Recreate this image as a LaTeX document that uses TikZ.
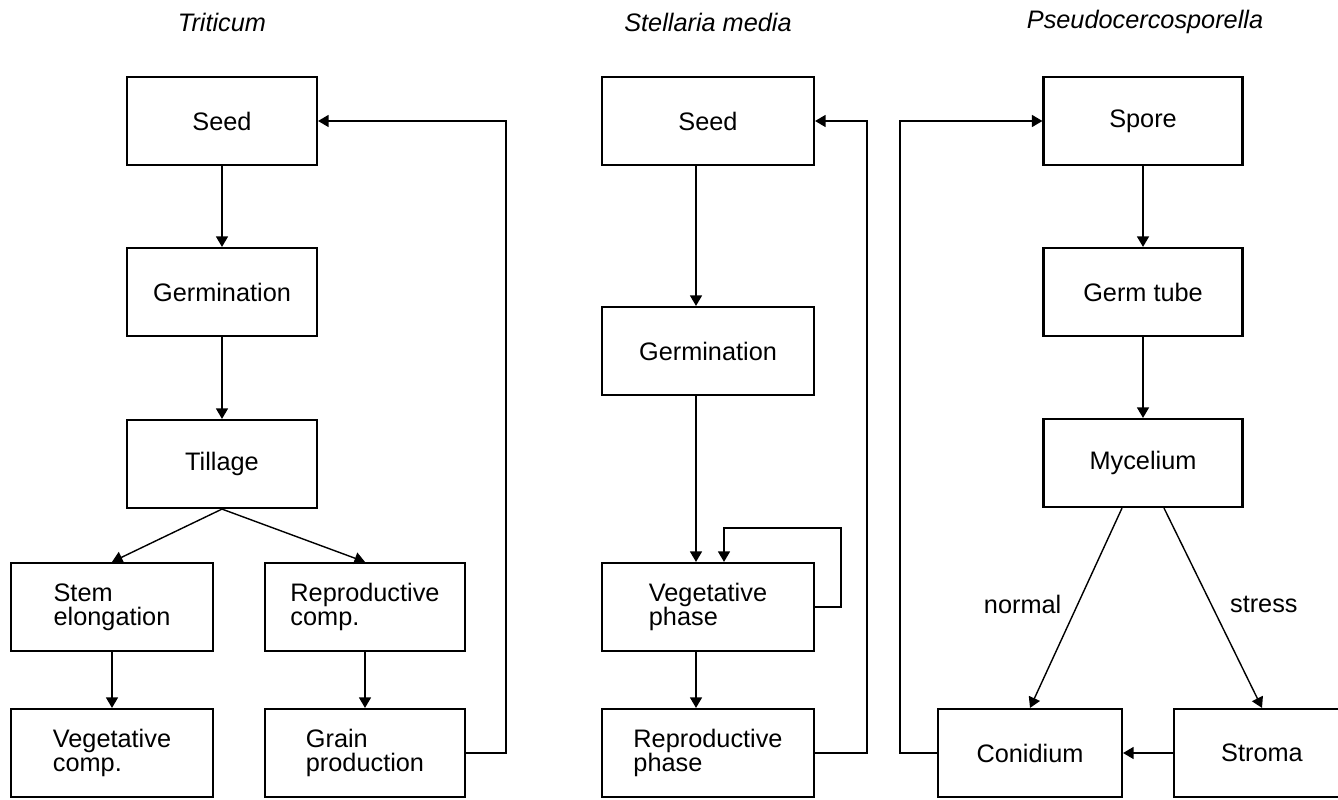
\documentclass[tikz,border=0pt]{standalone}
\usepackage{fontspec}
\setmainfont{Liberation Sans}
\usetikzlibrary{arrows.meta,positioning}

\tikzset{
  box/.style={draw, line width=1.25pt, minimum height=1.76cm, inner sep=2pt, align=left,
    font=\fontsize{14.4}{13.6}\selectfont},
  flow/.style={line width=0.8pt, -{Triangle[length=2.1mm,width=2.4mm]}},
  title/.style={font=\fontsize{14.4}{14.6}\selectfont\itshape},
  lbl/.style={font=\fontsize{14.4}{14.6}\selectfont}
}

\begin{document}
\begin{tikzpicture}[x=0.02cm, y=-0.02cm]

\path[use as bounding box, clip] (0,0) rectangle (1338,800);

% titles
\node[title] (tT) at (222,22) {Triticum};
\node[title] (tS) at (708,22) {Stellaria media};
\node[title] (tP) at (1145,22) {Pseudocercosporella};

% Triticum
\node[box, minimum width=3.8cm] (seedT) at (222,121) {Seed};
\node[box, minimum width=3.8cm] (germT) at (222,292) {Germination};
\node[box, minimum width=3.8cm] (tillT) at (222,464) {Tillage};
\node[box, minimum width=4.04cm] (stemT) at (112,607) {Stem\\elongation};
\node[box, minimum width=4cm] (reprT) at (365,607) {Reproductive\\comp.};
\node[box, minimum width=4.04cm] (vegT) at (112,753) {Vegetative\\comp.};
\node[box, minimum width=4cm] (grainT) at (365,753) {Grain\\production};

\draw[flow] (seedT) -- (germT);
\draw[flow] (germT) -- (tillT);
\draw[flow] (tillT.south) -- (stemT.north);
\draw[flow] (tillT.south) -- (reprT.north);
\draw[flow] (stemT) -- (vegT);
\draw[flow] (reprT) -- (grainT);
\draw[flow] (grainT.east) -- ++(40,0) |- (seedT.east);

% Stellaria media
\node[box, minimum width=4.24cm] (seedS) at (708,121) {Seed};
\node[box, minimum width=4.24cm] (germS) at (708,351) {Germination};
\node[box, minimum width=4.24cm] (vegS) at (708,607) {Vegetative\\phase};
\node[box, minimum width=4.24cm] (repS) at (708,753) {Reproductive\\phase};

\draw[flow] ([xshift=-0.24cm]seedS.south) -- ([xshift=-0.24cm]germS.north);
\draw[flow] ([xshift=-0.24cm]germS.south) -- ([xshift=-0.24cm]vegS.north);
\draw[flow] (vegS.east) -- ++(26,0) |- ([xshift=0.32cm,yshift=0.68cm]vegS.north) -- ([xshift=0.32cm]vegS.north);
\draw[flow] ([xshift=-0.24cm]vegS.south) -- ([xshift=-0.24cm]repS.north);
\draw[flow] (repS.east) -- ++(52,0) |- (seedS.east);

% Pseudocercosporella
\node[box, minimum width=3.98cm] (spore) at (1143,121) {Spore};
\node[box, minimum width=3.98cm] (tube) at (1143,292) {Germ tube};
\node[box, minimum width=3.98cm] (myc) at (1143,463) {Mycelium};
\node[box, minimum width=3.68cm] (con) at (1030,753) {Conidium};
\node[box, minimum width=3.52cm] (strom) at (1262,753) {Stroma};

\draw[flow] (spore) -- (tube);
\draw[flow] (tube) -- (myc);
\draw[flow] ([xshift=-0.42cm]myc.south) -- (con.north)
  node[lbl, pos=0.48, left=0.2cm] {normal};
\draw[flow] ([xshift=0.42cm]myc.south) -- (strom.north)
  node[lbl, pos=0.48, right=0.25cm] {stress};
\draw[flow] (strom) -- (con);
\draw[flow] (con.west) -- ++(-37,0) |- (spore.west);

\end{tikzpicture}
\end{document}
